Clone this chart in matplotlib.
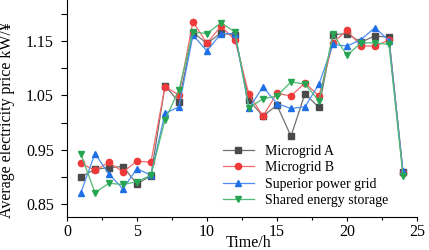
import matplotlib.pyplot as plt
from matplotlib.ticker import MultipleLocator

hours = list(range(1, 25))

microgrid_a = [0.900, 0.914, 0.917, 0.919, 0.887, 0.902, 1.068, 1.038, 1.166, 1.146,
               1.165, 1.161, 1.041, 1.012, 1.032, 0.975, 1.053, 1.028, 1.162, 1.164,
               1.148, 1.160, 1.157, 0.909]
microgrid_b = [0.925, 0.912, 0.927, 0.909, 0.929, 0.927, 1.066, 1.051, 1.186, 1.146,
               1.178, 1.152, 1.052, 1.012, 1.054, 1.049, 1.073, 1.049, 1.147, 1.170,
               1.141, 1.141, 1.152, 0.907]
superior_grid = [0.871, 0.943, 0.905, 0.878, 0.915, 0.903, 1.017, 1.029, 1.161, 1.132,
                 1.164, 1.164, 1.026, 1.066, 1.035, 1.026, 1.029, 1.071, 1.144, 1.141,
                 1.153, 1.175, 1.151, 0.910]
shared_storage = [0.942, 0.871, 0.888, 0.886, 0.891, 0.903, 1.005, 1.060, 1.167, 1.164,
                  1.184, 1.167, 1.027, 1.044, 1.049, 1.075, 1.071, 1.040, 1.163, 1.124,
                  1.147, 1.147, 1.144, 0.902]

labels = ['Microgrid A', 'Microgrid B', 'Superior power grid', 'Shared energy storage']
series = [microgrid_a, microgrid_b, superior_grid, shared_storage]
markers = ['s', 'o', '^', 'v']
colors = ['#4a4a4a', '#f03a3a', '#1f6fe6', '#27a552']
line_colors = ['#707070', '#f36a6a', '#4d8ef0', '#4fba74']

plt.rcParams['font.family'] = ['Liberation Serif', 'DejaVu Serif']

fig = plt.figure(figsize=(4.29, 2.5), dpi=100)
ax = fig.add_axes([0.156, 0.132, 0.816, 0.866])

for vals, lab, m, c, lc in zip(series, labels, markers, colors, line_colors):
    ax.plot(hours, vals, color=lc, lw=0.9, marker=m, markersize=4.5,
            markerfacecolor=c, markeredgecolor=c, label=lab)

ax.set_xlim(0, 25)
ax.set_ylim(0.826, 1.225)
ax.xaxis.set_major_locator(MultipleLocator(5))
ax.xaxis.set_minor_locator(MultipleLocator(2.5))
ax.set_yticks([0.85, 0.95, 1.05, 1.15])
ax.yaxis.set_minor_locator(MultipleLocator(0.05))
ax.tick_params(which='both', direction='out', labelsize=11.5, width=0.8)
ax.tick_params(axis='x', which='major', length=3, pad=2)
ax.tick_params(axis='x', which='minor', length=2)
ax.tick_params(axis='y', which='major', length=4.3, pad=5)
ax.tick_params(axis='y', which='minor', length=4.3)

ax.spines['top'].set_visible(False)
ax.spines['right'].set_visible(False)

ax.set_xlabel('Time/h', fontsize=11.5)
ax.xaxis.set_label_coords(0.52, -0.083)
ax.set_ylabel('Average electricity price kW/¥', fontsize=11.5)
ax.yaxis.set_label_coords(-0.149, 0.45)

ax.legend(loc='upper left', bbox_to_anchor=(0.43, 0.36), frameon=False,
          fontsize=10, labelspacing=0.25, handlelength=2.2, handletextpad=0.8,
          borderaxespad=0)

fig.savefig('out.png', dpi=100)
plt.close(fig)
